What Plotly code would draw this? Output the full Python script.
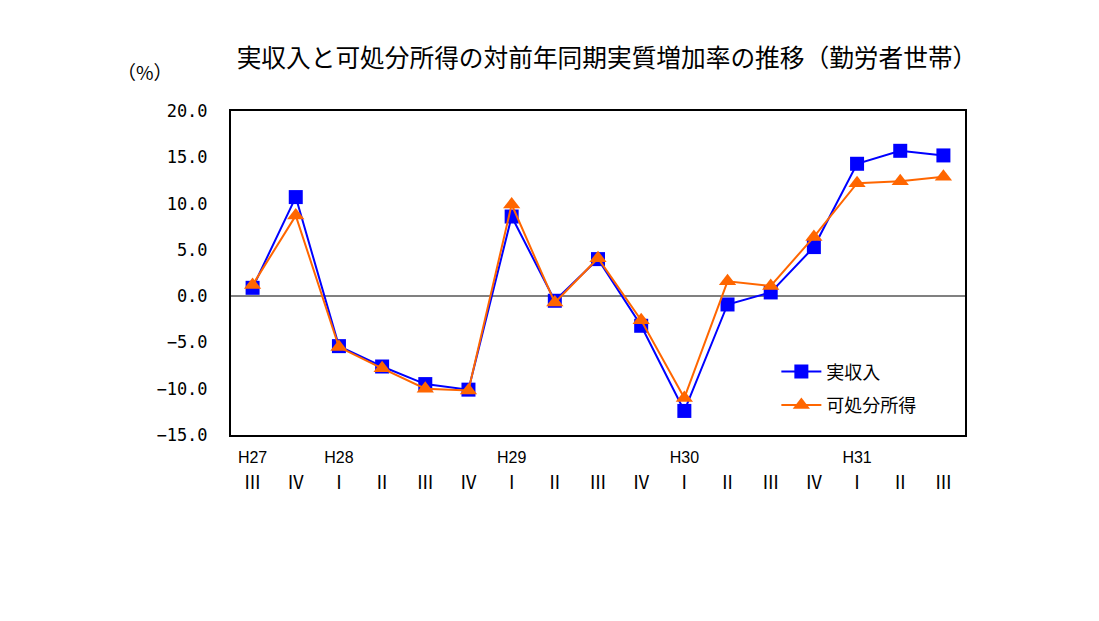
import plotly.graph_objects as go

quarters = ["H27-3", "H27-4", "H28-1", "H28-2", "H28-3", "H28-4", "H29-1", "H29-2", "H29-3",
            "H29-4", "H30-1", "H30-2", "H30-3", "H30-4", "H31-1", "H31-2", "H31-3"]
roman_labels = ["Ⅲ", "Ⅳ", "Ⅰ", "Ⅱ", "Ⅲ", "Ⅳ", "Ⅰ", "Ⅱ", "Ⅲ", "Ⅳ", "Ⅰ", "Ⅱ", "Ⅲ", "Ⅳ", "Ⅰ", "Ⅱ", "Ⅲ"]
year_positions = ["H27-3", "H28-1", "H29-1", "H30-1", "H31-1"]
year_labels = ["H27", "H28", "H29", "H30", "H31"]

actual_income = [0.9, 10.7, -5.4, -7.6, -9.5, -10.1, 8.6, -0.5, 4.0, -3.2, -12.4, -0.9, 0.4, 5.3, 14.3, 15.7, 15.2]
disposable_income = [1.2, 8.7, -5.5, -7.8, -10.0, -10.2, 9.9, -0.7, 4.1, -2.6, -11.0, 1.6, 1.1, 6.4, 12.2, 12.4, 12.9]

y_ticks = [-15, -10, -5, 0, 5, 10, 15, 20]

jp_font = "Noto Sans CJK JP"

# plot area in pixels (for paper-coordinate conversion of annotations)
L, R, T, B = 231, 965, 111, 435

fig = go.Figure()
fig.add_trace(go.Scatter(
    x=quarters, y=actual_income, name="実収入", mode="lines+markers",
    legendgroup="a",
    line=dict(color="#0000FF", width=2),
    marker=dict(symbol="square", size=14, color="#0000FF"),
))
fig.add_trace(go.Scatter(
    x=quarters, y=disposable_income, name="可処分所得", mode="lines+markers",
    legendgroup="b",
    line=dict(color="#FF6600", width=2),
    marker=dict(symbol="triangle-up", size=15, color="#FF6600"),
))

n = len(quarters)
fig.update_layout(
    width=1099, height=621,
    margin=dict(l=L, r=1099 - R, t=T, b=621 - B),
    paper_bgcolor="white", plot_bgcolor="white",
    showlegend=True,
    legend=dict(x=0.743, y=0.252, xanchor="left", yanchor="top",
                font=dict(family=jp_font, size=18, color="black"),
                bgcolor="rgba(0,0,0,0)", tracegroupgap=7, itemwidth=40,
                traceorder="grouped"),
    title=dict(text="実収入と可処分所得の対前年同期実質増加率の推移（勤労者世帯）",
               x=607 / 1099, xanchor="center", y=1 - 58 / 621, yanchor="middle",
               font=dict(family=jp_font, size=24.7, color="black")),
    annotations=[dict(text="（%）", x=(145 - L) / (R - L), y=(B - 72) / (B - T),
                      xref="paper", yref="paper",
                      xanchor="center", yanchor="middle", showarrow=False,
                      font=dict(family=jp_font, size=19, color="black"))],
    xaxis=dict(type="category", categoryorder="array", categoryarray=quarters,
               range=[-0.5, n - 0.5], autorange=False,
               tickvals=quarters, ticktext=roman_labels, ticks="",
               ticklabelstandoff=30,
               tickfont=dict(family=jp_font, size=18, color="black"),
               showgrid=False, zeroline=False,
               showline=True, linecolor="black", linewidth=2, mirror=True),
    xaxis2=dict(type="category", overlaying="x", side="bottom", matches="x",
                categoryorder="array", categoryarray=quarters,
                tickvals=year_positions, ticktext=year_labels, ticks="",
                ticklabelstandoff=11,
                tickfont=dict(family="Liberation Sans", size=16, color="black"),
                showgrid=False, zeroline=False, showline=False),
    yaxis=dict(range=[-15, 20], autorange=False, tickvals=y_ticks, tickformat=".1f", ticks="",
               ticklabelstandoff=18,
               tickfont=dict(family="DejaVu Sans Mono", size=17, color="black"),
               showgrid=False, zeroline=True, zerolinecolor="#808080", zerolinewidth=2,
               showline=True, linecolor="black", linewidth=2, mirror=True),
)

# invisible trace to activate xaxis2
fig.add_trace(go.Scatter(x=quarters, y=actual_income, xaxis="x2", mode="none",
                         showlegend=False, hoverinfo="skip"))

fig.write_html("out.html")
